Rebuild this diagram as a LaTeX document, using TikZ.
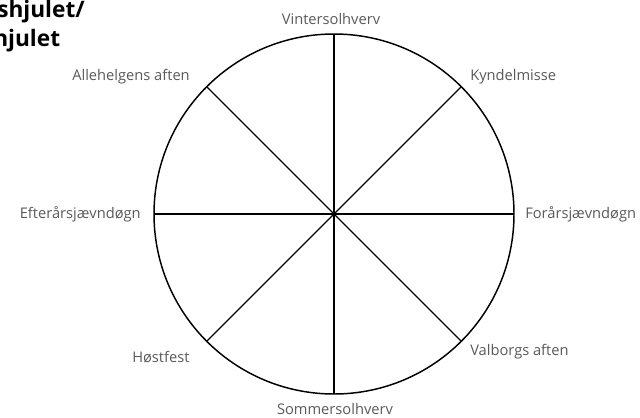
\documentclass[tikz,border=0pt]{standalone}
\usepackage{fontspec}
\setmainfont{Open Sans}
\usepackage{tikz}
\usetikzlibrary{positioning}
\usepackage{xcolor}
\begin{document}
\begin{tikzpicture}[x=0.75pt,y=-0.75pt,
  lbl/.style={text=black!65,font=\fontsize{11}{13}\selectfont,inner sep=0pt},
  ttl/.style={font=\bfseries\fontsize{17}{20}\selectfont,anchor=base west,inner sep=0pt}]
\useasboundingbox (0,0) rectangle (640,418);
\clip (0,0) rectangle (640,418);
\coordinate (c) at (334,214);
\draw[line width=1.1pt] (c) circle[radius=180];
\foreach \a in {0,45,...,315} \path (c) ++(\a:180) coordinate (p\a);
\foreach \a in {0,45,...,315} \draw[line width=0.9pt] (c)--(p\a);
\node[ttl] (t1) at (-3,17) {shjulet/};
\node[ttl] (t2) at (-7,46) {hjulet};
\node[lbl] (vinter) at (331,19){Vintersolhverv};
\node[lbl] (sommer) at (335,409){Sommersolhverv};
\node[lbl,anchor=east] (efter) at (141,214){Efterårsjævndøgn};
\node[lbl,anchor=west] (forar) at (525,214){Forårsjævndøgn};
\node[lbl,anchor=west] (kyndel) at (470,77){Kyndelmisse};
\node[lbl,anchor=west] (alle) at (72,77){Allehelgens aften};
\node[lbl,anchor=west] (host) at (132,357){Høstfest};
\node[lbl,anchor=west] (valb) at (470,352){Valborgs aften};
\end{tikzpicture}
\end{document}
